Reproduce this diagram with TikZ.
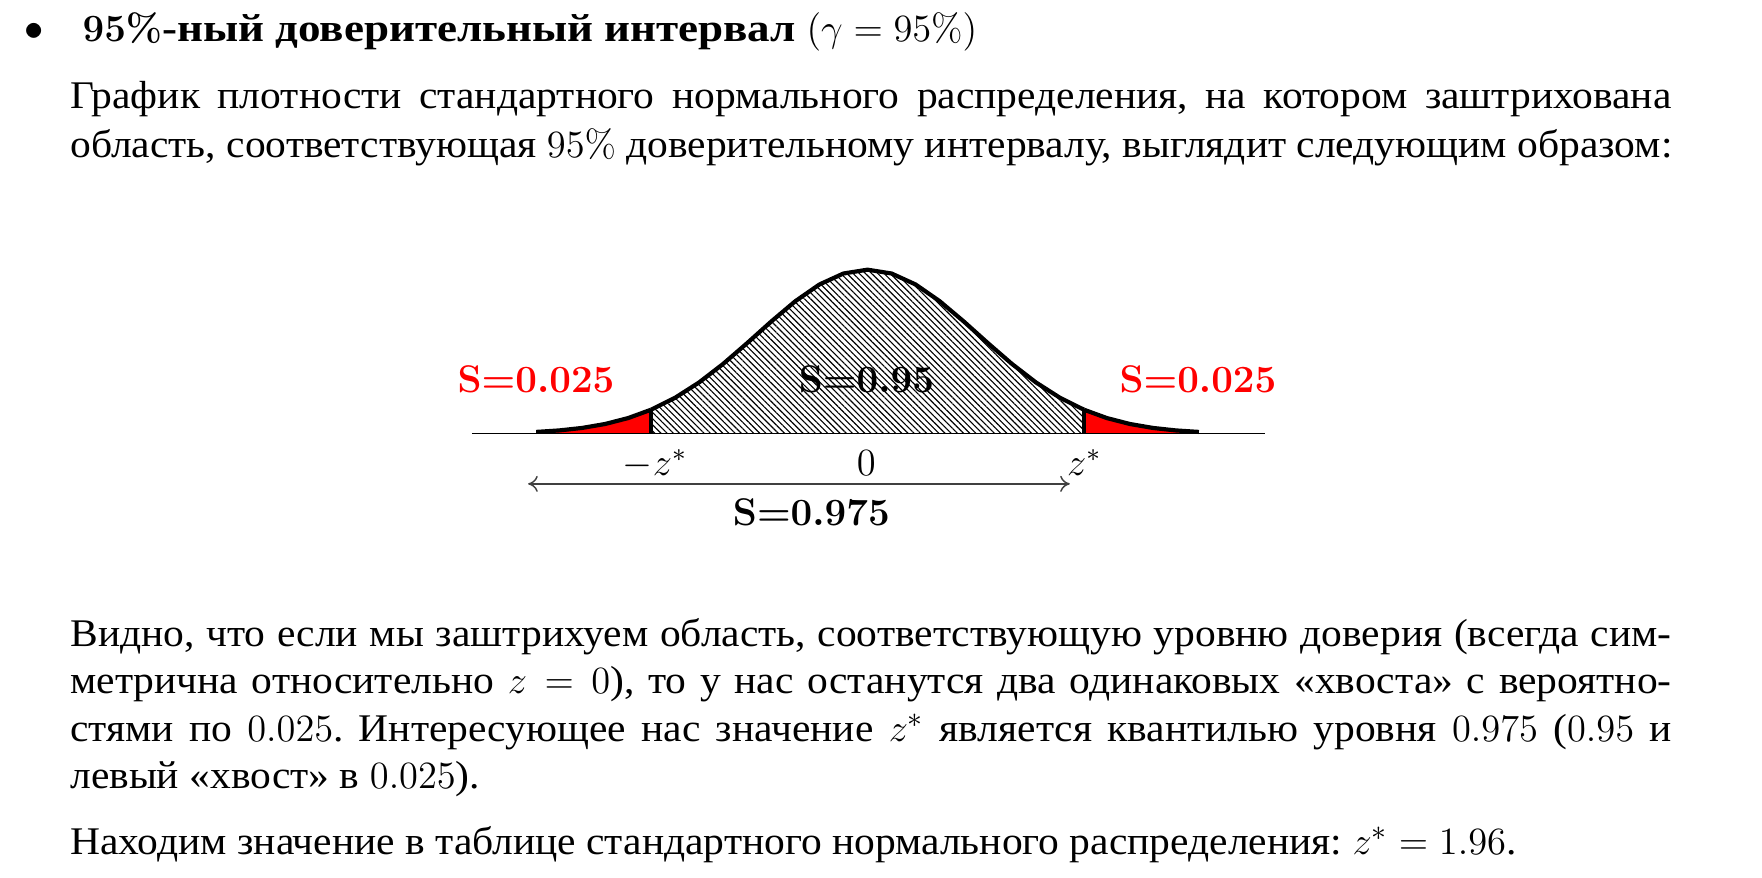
\documentclass[tikz,border=0pt]{standalone}
\usepackage[no-math]{fontspec}
\setmainfont{Liberation Serif}[FakeStretch=1.06,BoldFeatures={FakeStretch=1.15}]
\usetikzlibrary{patterns.meta,arrows.meta}
\frenchspacing
\newlength\tw
\setlength\tw{498.75pt}
\newcommand\jl[1]{\hbox to \tw{#1}}
\newcommand\bS[1]{{\boldmath$\mathbf{S}{=}\mathbf{#1}$}}
\begin{document}
\begin{tikzpicture}[x=0.35pt,y=-0.35pt,
  txt/.style={anchor=base west,inner sep=0pt,font=\fontsize{12.2}{14.5}\selectfont},
  lbl/.style={anchor=base,inner sep=0pt,font=\fontsize{12}{14.5}\selectfont},
  curve/.style={line width=1.3pt,line join=round},
  hatch/.style={pattern={Lines[angle=-45,distance=1.36pt,line width=0.35pt]}},
  tail/.style={fill=red}]
\useasboundingbox (0,0) rectangle (1568,781);
% header
\node[lbl,anchor=center] (bul) at (30,28) {$\bullet$};
\node[txt] (title) at (73,37) {\textbf{{\boldmath$95\%$}-ный доверительный интервал} {\fontsize{12.6}{14.5}\selectfont$(\gamma = 95\%)$}};
\node[txt] (p1a) at (62,97) {\jl{График плотности стандартного нормального распределения, на котором заштрихована}};
\node[txt] (p1b) at (62,140) {область, соответствующая $95\%$ доверительному интервалу, выглядит следующим образом:};
% plot
\def\mx{772}\def\sg{98.3}\def\ax{386}\def\hp{146}
\fill[tail] (477.1,\ax) -- plot[domain=-3:-1.96,samples=6] ({\mx+\sg*\x},{\ax-\hp*exp(-\x*\x/2)}) -- (579.3,\ax) -- cycle;
\fill[tail] (964.7,\ax) -- plot[domain=1.96:3,samples=6] ({\mx+\sg*\x},{\ax-\hp*exp(-\x*\x/2)}) -- (1066.9,\ax) -- cycle;
\fill[hatch] (579.3,\ax) -- plot[domain=-1.96:1.96,samples=19] ({\mx+\sg*\x},{\ax-\hp*exp(-\x*\x/2)}) -- (964.7,\ax) -- cycle;
\draw[curve] plot[domain=-3:-1.96,samples=6] ({\mx+\sg*\x},{\ax-\hp*exp(-\x*\x/2)});
\draw[curve] plot[domain=-1.96:1.96,samples=19] ({\mx+\sg*\x},{\ax-\hp*exp(-\x*\x/2)});
\draw[curve] plot[domain=1.96:3,samples=6] ({\mx+\sg*\x},{\ax-\hp*exp(-\x*\x/2)});
\coordinate (lb) at (579.3,\ax); \coordinate (lt) at (579.3,364.6);
\coordinate (rb) at (964.7,\ax); \coordinate (rt) at (964.7,364.6);
\draw[line width=1pt] (lb) -- (lt);
\draw[line width=1pt] (rb) -- (rt);
\coordinate (axl) at (420,\ax); \coordinate (axr) at (1126,\ax);
\draw[line width=0.45pt] (axl) -- (axr);
\node[lbl,text=red] (sl) at (477,349) {\bS{0.025}};
\node[lbl] (sm) at (771,349) {\bS{0.95}};
\node[lbl,text=red] (sr) at (1066,349) {\bS{0.025}};
\node[lbl] (zl) at (583,423) {$-z^*$};
\node[lbl] (z0) at (771,423) {$0$};
\node[lbl] (zr) at (965,423) {$z^*$};
\coordinate (al) at (470,430.6); \coordinate (ar) at (952,430.6);
\draw[black!75,line width=0.45pt,{To[length=3pt,width=5pt]}-{To[length=3pt,width=5pt]}] (al) -- (ar);
\node[lbl] (sb) at (722,468) {\bS{0.975}};
% lower text
\node[txt] (p2a) at (62,575) {\jl{Видно, что если мы заштрихуем область, соответствующую уровню доверия (всегда сим-}};
\node[txt] (p2b) at (62,617) {\jl{метрична относительно $z=0$), то у нас останутся два одинаковых «хвоста» с вероятно-}};
\node[txt] (p2c) at (62,660) {\jl{стями по $0.025$. Интересующее нас значение $z^*$ является квантилью уровня $0.975$ ($0.95$ и}};
\node[txt] (p2d) at (62,702) {левый «хвост» в $0.025$).};
\node[txt] (p3) at (62,760) {Находим значение в таблице стандартного нормального распределения: $z^* = 1.96$.};
\end{tikzpicture}
\end{document}
